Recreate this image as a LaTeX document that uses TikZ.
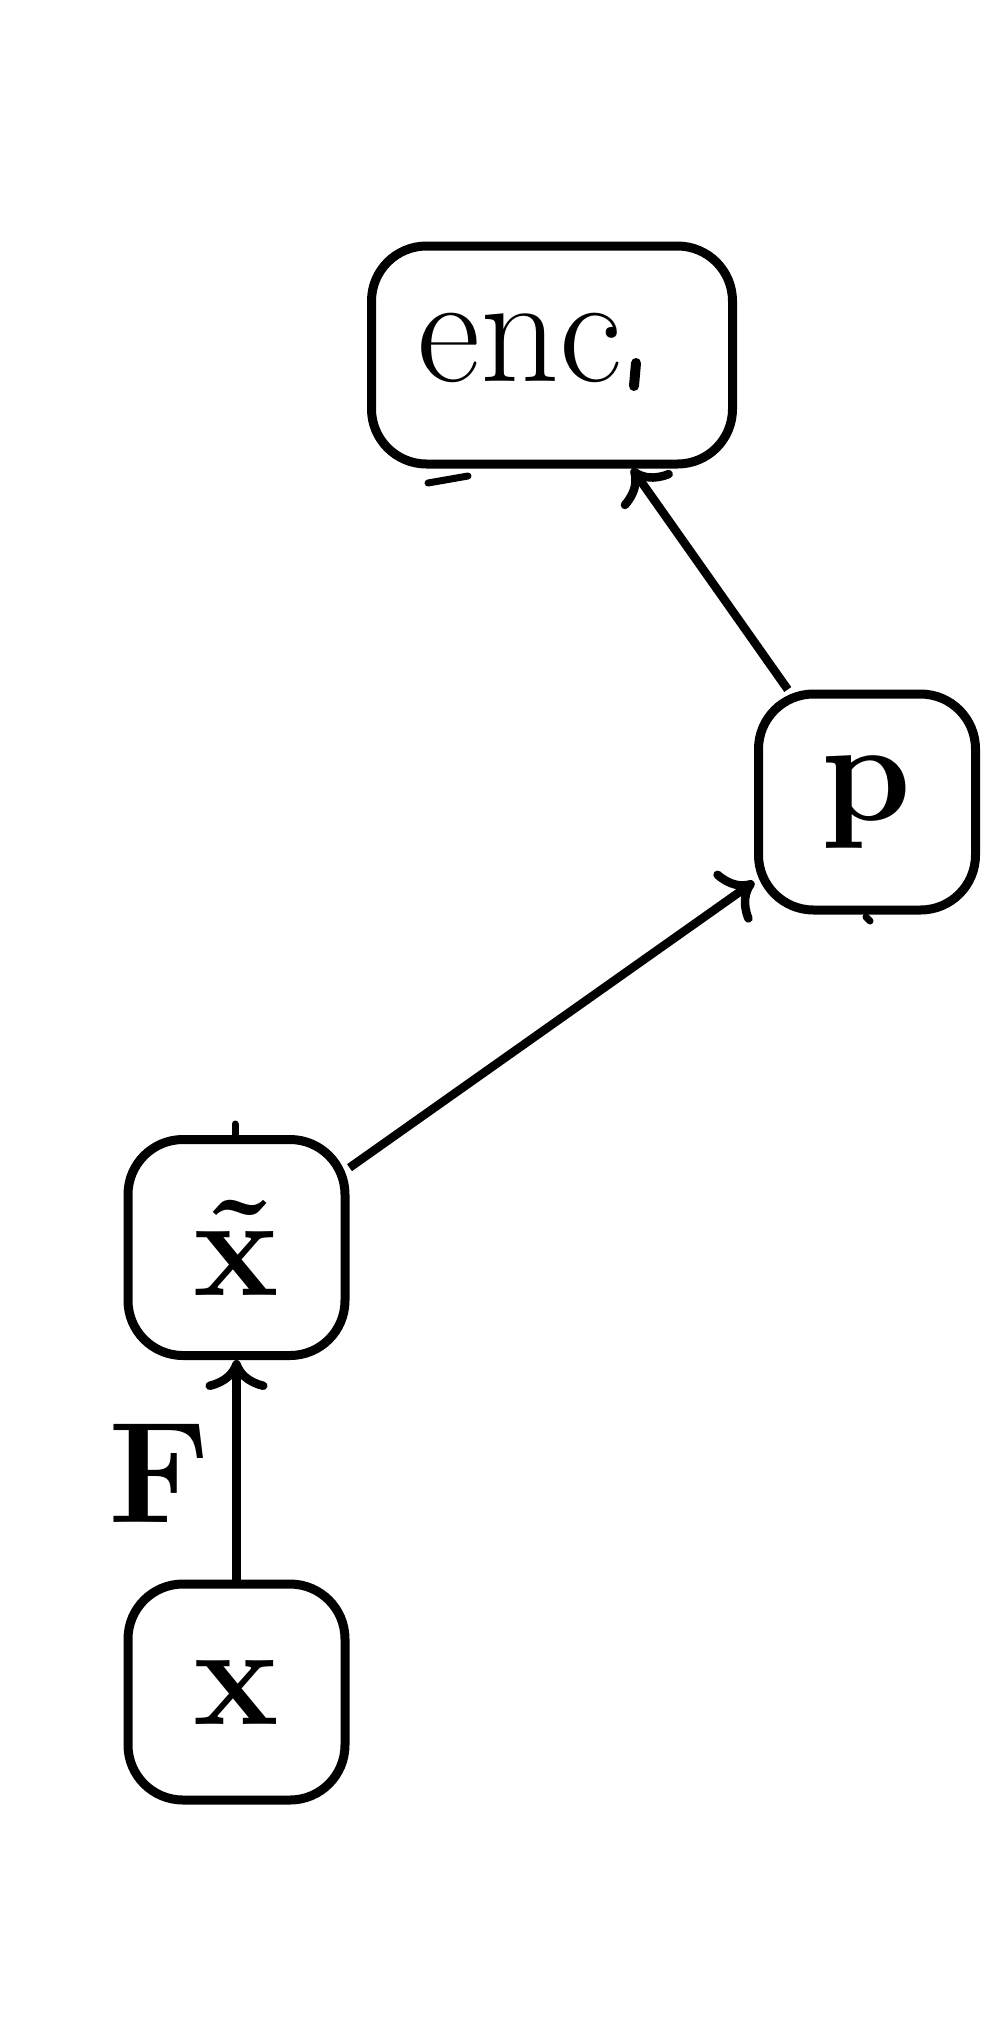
\documentclass[tikz,border=0pt]{standalone}
\usetikzlibrary{arrows.meta}
\tikzset{
  box/.style={draw, line width=0.09cm, rounded corners=0.55cm, inner sep=0pt,
    minimum width=2.17cm, minimum height=2.16cm, font=\fontsize{41}{49}\selectfont},
  arr/.style={line width=0.085cm, -{Computer Modern Rightarrow[length=0.3cm, width=0.62cm]}},
  lbl/.style={inner sep=0pt, font=\fontsize{41}{49}\selectfont},
  residue/.style={line width=0.07cm, line cap=round}
}
\begin{document}
\begin{tikzpicture}
\useasboundingbox (0,0) rectangle (10,-20.26);
\node[box, minimum width=3.61cm, minimum height=2.18cm] (enc) at (5.52,-3.55) {};
\node[lbl, font=\fontsize{44}{52}\selectfont] (enctext) at (5.20,-3.48) {enc};
\node[box] (p) at (8.67,-8.02) {\textbf{p}};
\node[box] (xt) at (2.365,-12.475) {\textbf{\~{x}}};
\node[box] (x) at (2.365,-16.92) {\textbf{x}};
\draw[arr] (x) -- (xt);
\node[lbl] (F) at (1.59,-14.73) {\textbf{F}};
\draw[arr] (xt) -- (p);
\draw[arr] (p) -- (enc);
% small residual marks
\draw[line width=0.1cm, line cap=round] (6.36,-3.63) -- (6.34,-3.86);
\draw[residue] (4.28,-4.83) -- (4.68,-4.76);
\draw[residue] (8.66,-9.17) -- (8.70,-9.21);
\draw[residue] (2.35,-11.24) -- (2.35,-11.36);
\end{tikzpicture}
\end{document}
